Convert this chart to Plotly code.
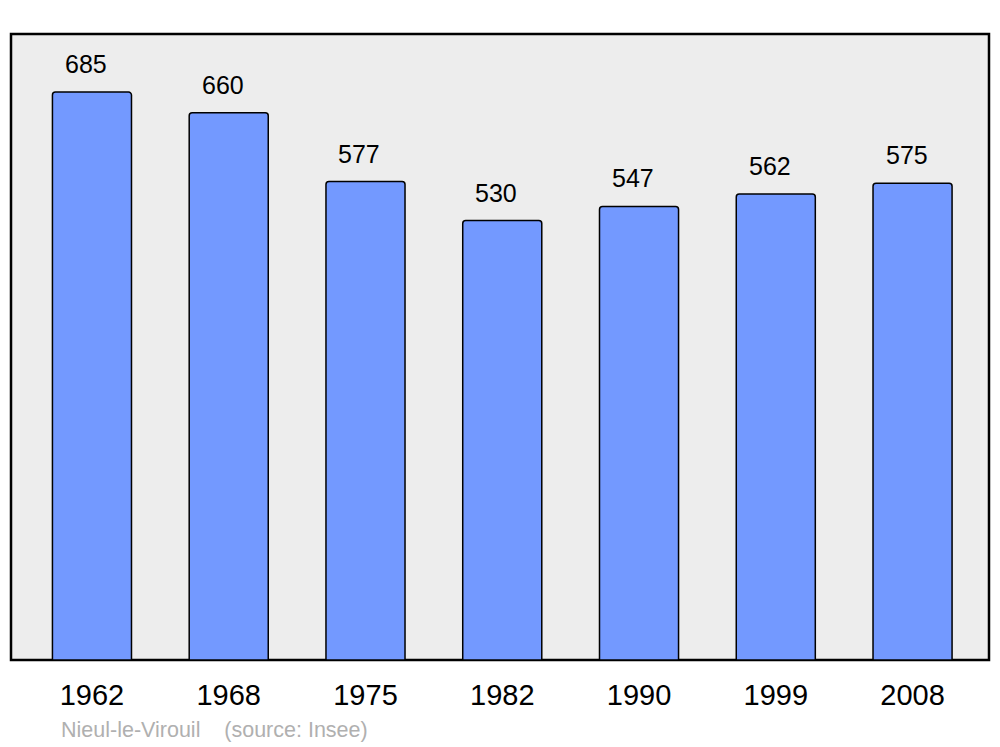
import plotly.graph_objects as go

years = ["1962", "1968", "1975", "1982", "1990", "1999", "2008"]
population = [685, 660, 577, 530, 547, 562, 575]
footer = "Nieul-le-Virouil    (source: Insee)"

xs = list(range(len(years)))
FONT = "Liberation Sans, Arial, sans-serif"

fig = go.Figure()
fig.add_trace(go.Bar(
    x=xs, y=population, width=0.578,
    marker=dict(color="#7399ff", line=dict(color="black", width=1.5), cornerradius=3),
    hoverinfo="skip",
))

for x, v in zip(xs, population):
    fig.add_annotation(x=x, y=v, text=str(v), showarrow=False, yanchor="bottom",
                       yshift=12, xshift=-6, font=dict(size=25, color="black", family=FONT))

fig.add_shape(type="rect", xref="paper", yref="paper", x0=0, x1=1, y0=0, y1=1,
              fillcolor="#ededed", line=dict(color="black", width=2.5), layer="below")

fig.add_annotation(xref="paper", yref="paper", x=(59 - 11) / 978, y=-(730 - 660) / 626,
                   xanchor="left", yanchor="middle", showarrow=False, text=footer,
                   font=dict(size=21.5, color="#b0b0b0", family=FONT))

fig.update_layout(
    width=1000, height=747,
    margin=dict(l=11, r=11, t=34, b=87),
    paper_bgcolor="white", plot_bgcolor="rgba(0,0,0,0)",
    showlegend=False,
    font=dict(family=FONT, color="black"),
    xaxis=dict(range=[-0.592, 6.559], tickvals=xs, ticktext=years, showgrid=False,
               zeroline=False, showline=False, ticks="", tickfont=dict(size=29),
               ticklabelstandoff=15, fixedrange=True),
    yaxis=dict(range=[0, 755], showticklabels=False, showgrid=False, zeroline=False,
               showline=False, ticks="", fixedrange=True),
)

fig.write_html("out.html", config={"displayModeBar": False},
               post_script="document.body.style.margin='0';")
